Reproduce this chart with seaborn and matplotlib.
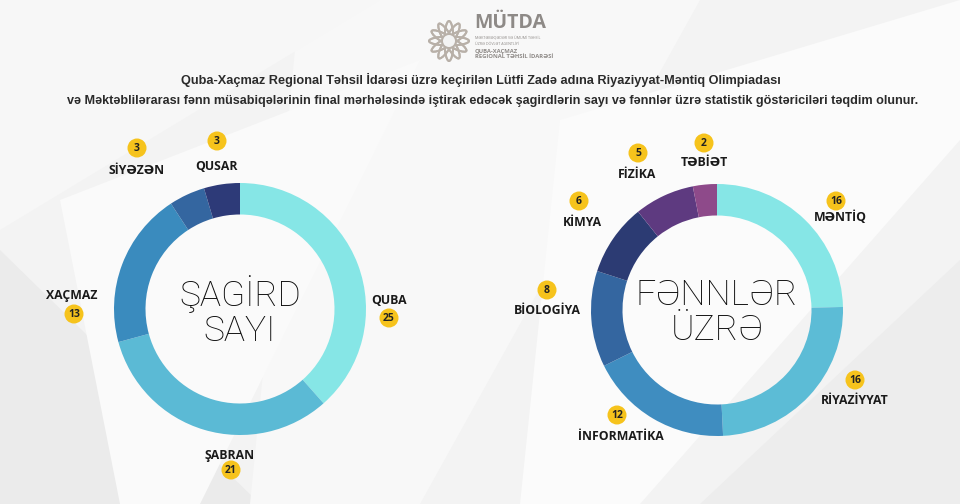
import matplotlib
matplotlib.use("Agg")
import matplotlib.pyplot as plt
import seaborn as sns
from matplotlib.patches import Polygon, Circle, Ellipse

# ---- data ----
cities = ["QUBA", "ŞABRAN", "XAÇMAZ", "SİYƏZƏN", "QUSAR"]
city_counts = [25, 21, 13, 3, 3]
city_colors = ["#86E6E6", "#5BBAD5", "#3A8BBE", "#3466A0", "#2D3A78"]

subjects = ["MƏNTİQ", "RİYAZİYYAT", "İNFORMATİKA", "BİOLOGİYA", "KİMYA", "FİZİKA", "TƏBİƏT"]
subject_counts = [16, 16, 12, 8, 6, 5, 2]
subject_colors = ["#86E6E6", "#5CBCD6", "#3F8DC0", "#3466A0", "#2C3B73", "#5E3A80", "#8E4A8A"]

title_lines = [
    "Quba-Xaçmaz Regional Təhsil İdarəsi üzrə keçirilən Lütfi Zadə adına Riyaziyyat-Məntiq Olimpiadası",
    "və Məktəblilərarası fənn müsabiqələrinin final mərhələsində iştirak edəcək şagirdlərin sayı və fənnlər üzrə statistik göstəriciləri təqdim olunur.",
]

# label layout (pixel coords): (number x, number y, label x, label y)
city_label_pos = {
    "QUBA": (389, 318, 389, 300),
    "ŞABRAN": (231, 470, 230, 455),
    "XAÇMAZ": (74, 314, 72, 296),
    "SİYƏZƏN": (137, 148, 137, 170),
    "QUSAR": (217, 141, 217, 167),
}
subject_label_pos = {
    "MƏNTİQ": (836, 201, 840, 217),
    "RİYAZİYYAT": (855, 380, 855, 401),
    "İNFORMATİKA": (617, 415, 621, 436),
    "BİOLOGİYA": (547, 290, 547, 310),
    "KİMYA": (579, 201, 582, 222),
    "FİZİKA": (638, 153, 637, 175),
    "TƏBİƏT": (704, 143, 704, 162),
}

sns.set_style("white")
plt.rcParams["font.family"] = ["Open Sans", "DejaVu Sans"]

W, H = 960, 504
fig = plt.figure(figsize=(9.6, 5.04), dpi=100)
fig.patch.set_facecolor("#F3F3F3")

bg = fig.add_axes([0, 0, 1, 1])
bg.set_xlim(0, W)
bg.set_ylim(H, 0)
bg.axis("off")

# abstract background shapes
shapes = [
    ([(0, 504), (0, 250), (260, 504)], "#EBEBEB"),
    ([(300, 0), (700, 0), (420, 504), (250, 504)], "#F8F8F8"),
    ([(560, 120), (960, 0), (960, 140), (640, 504), (520, 504)], "#FBFBFB"),
    ([(0, 0), (380, 0), (0, 230)], "#F7F7F7"),
    ([(700, 504), (960, 260), (960, 504)], "#EDEDED"),
    ([(60, 200), (420, 60), (200, 504), (120, 504)], "#FAFAFA"),
]
for pts, col in shapes:
    bg.add_patch(Polygon(pts, closed=True, facecolor=col, edgecolor="none", zorder=0))

# logo
for k in range(12):
    ang = k * 30
    bg.add_patch(Ellipse((449, 41), 40, 9, angle=ang, facecolor="none",
                         edgecolor="#B8B0A8", lw=1.4, zorder=2))
bg.add_patch(Circle((449, 41), 6, facecolor="#F3F3F3", edgecolor="none", zorder=3))
bg.text(474, 23, "MÜTDA", fontsize=14, fontweight="bold", color="#8E8A87",
        ha="left", va="center", zorder=3)
bg.text(475, 41, "MƏKTƏBƏQƏDƏR VƏ ÜMUMİ TƏHSİL\nÜZRƏ DÖVLƏT AGENTLİYİ", fontsize=2.6,
        color="#8E8A87", ha="left", va="center", linespacing=1.3, zorder=3)
bg.text(475, 54, "QUBA-XAÇMAZ\nREGIONAL TƏHSİL İDARƏSİ", fontsize=4.2, fontweight="bold",
        color="#8E8A87", ha="left", va="center", linespacing=1.2, zorder=3)

# title
title_font = ["Liberation Sans Narrow", "Liberation Sans", "DejaVu Sans"]
bg.text(481, 80, title_lines[0], fontsize=9.2, fontweight="bold", color="#2B2B2B",
        ha="center", va="center", family=title_font)
bg.text(493, 101, title_lines[1], fontsize=9.05, fontweight="bold", color="#2B2B2B",
        ha="center", va="center", family=title_font)


def donut(cx, cy, r, values, colors, center_text):
    ax = fig.add_axes([(cx - r) / W, (H - cy - r) / H, 2 * r / W, 2 * r / H])
    ax.pie(values, colors=colors, startangle=90, counterclock=False, radius=1,
           wedgeprops=dict(width=0.25, edgecolor="none"))
    ax.set_xlim(-1, 1)
    ax.set_ylim(-1, 1)
    ax.set_aspect("equal")
    ax.axis("off")
    ax.text(0, -0.02, center_text, ha="center", va="center", fontsize=25.5,
            fontweight="light", family=["Roboto", "DejaVu Sans"], color="#0E0E0E",
            linespacing=1.05)
    return ax


donut(240, 309, 126, city_counts, city_colors, "ŞAGİRD\nSAYI")
donut(717, 310, 126, subject_counts, subject_colors, "FƏNNLƏR\nÜZRƏ")


def add_labels(names, counts, pos):
    for name, val in zip(names, counts):
        nx, ny, lx, ly = pos[name]
        bg.add_patch(Circle((nx, ny), 9.5, facecolor="#F6C31C", edgecolor="none", zorder=4))
        bg.text(nx, ny + 0.5, str(val), ha="center", va="center", fontsize=7.5,
                fontweight="bold", color="#222222", zorder=5)
        bg.text(lx, ly, name, ha="center", va="center", fontsize=8.8,
                fontweight="bold", color="#1A1A1A", zorder=5)


add_labels(cities, city_counts, city_label_pos)
add_labels(subjects, subject_counts, subject_label_pos)

fig.savefig("out.png", dpi=100, facecolor=fig.get_facecolor())
